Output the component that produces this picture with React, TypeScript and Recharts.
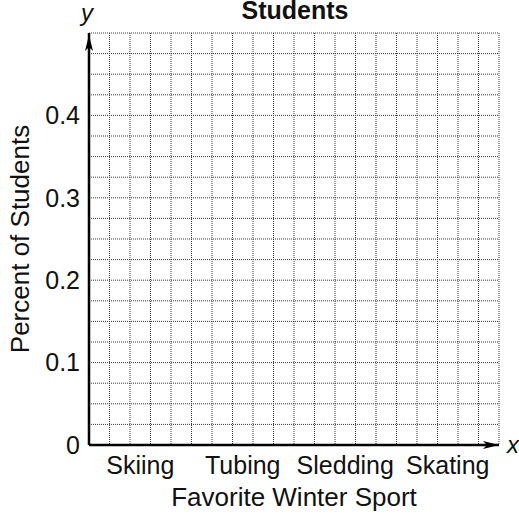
import { Bar, CartesianGrid, ComposedChart, XAxis, YAxis } from "recharts";

// blank graph: favourite winter sport, no values filled in yet
const sports = ["Skiing", "Tubing", "Sledding", "Skating"];
const percents: (number | null)[] = [null, null, null, null];

const yTicks = [
  0, 0.025, 0.05, 0.075, 0.1, 0.125, 0.15, 0.175, 0.2, 0.225, 0.25, 0.275, 0.3,
  0.325, 0.35, 0.375, 0.4, 0.425, 0.45, 0.475, 0.5,
];
const yLabels = [0, 0.1, 0.2, 0.3, 0.4];
const gridCols = [0, 1, 2, 3, 4, 5, 6, 7, 8, 9, 10, 11, 12, 13, 14, 15, 16, 17, 18, 19, 20];

const data = sports.map((sport, i) => ({ sport, percent: percents[i] }));

const FONT = '"Liberation Sans", Arial, Helvetica, sans-serif';

export default function App() {
  return (
    <div style={{ position: "absolute", left: 0, top: 0, width: 519, height: 516, background: "#fff" }}>
      <svg width={0} height={0} style={{ position: "absolute" }}>
        <defs>
          <marker id="arrowEnd" markerUnits="userSpaceOnUse" markerWidth={16} markerHeight={8}
            refX={16} refY={4} orient="auto" viewBox="0 0 16 8">
            <path d="M0,0 L16,4 L0,8 L4,4 z" fill="#000" />
          </marker>
          <marker id="arrowStart" markerUnits="userSpaceOnUse" markerWidth={18} markerHeight={8}
            refX={18} refY={4} orient="auto-start-reverse" viewBox="0 0 18 8">
            <path d="M0,0 L16,4 L0,8 L4,4 z" fill="#000" />
          </marker>
        </defs>
      </svg>
      <ComposedChart
        width={519}
        height={516}
        data={data}
        margin={{ top: 33, right: 20, bottom: 0, left: 0 }}
        style={{ fontFamily: FONT }}
      >
        <CartesianGrid
          stroke="#3a3a3a"
          strokeDasharray="1 1"
          strokeWidth={1}
          verticalCoordinatesGenerator={({ offset }: any) =>
            gridCols.map((c) => offset.left + (offset.width * c) / gridCols[gridCols.length - 1])
          }
        />
        <XAxis
          dataKey="sport"
          height={71}
          tickSize={0}
          tickMargin={11}
          tick={{ fontSize: 25, fill: "#111" }}
          axisLine={{ stroke: "#000", strokeWidth: 2.5, markerEnd: "url(#arrowEnd)" }}
          label={{ value: "Favorite Winter Sport", position: "insideBottom", offset: 10, fontSize: 26, fill: "#111" }}
        />
        <YAxis
          type="number"
          width={89}
          domain={[0, 0.5]}
          allowDataOverflow
          ticks={yTicks}
          interval={0}
          tickSize={0}
          tickMargin={9}
          tickFormatter={(v: number) => (yLabels.includes(v) ? String(v) : "")}
          tick={{ fontSize: 25, fill: "#111" }}
          axisLine={{ stroke: "#000", strokeWidth: 2.5, markerStart: "url(#arrowStart)" }}
          label={{
            content: (props: any) => {
              const vb = props.viewBox ?? { x: 0, y: 33, height: 412 };
              const x = vb.x + 29;
              const y = vb.y + vb.height / 2;
              return (
                <text x={x} y={y} transform={`rotate(-90, ${x}, ${y})`} textAnchor="middle"
                  fontSize={26} fill="#111" fontFamily={FONT}>
                  Percent of Students
                </text>
              );
            },
          }}
        />
        <Bar dataKey="percent" fill="#888" isAnimationActive={false} />
        <text x={295} y={19} textAnchor="middle" fontSize={25} fontWeight="bold" fill="#111" fontFamily={FONT}>
          Students
        </text>
        <text x={87} y={21} textAnchor="middle" fontSize={24} fontStyle="italic" fill="#111" fontFamily={FONT}>
          y
        </text>
        <text x={507} y={453} fontSize={24} fontStyle="italic" fill="#111" fontFamily={FONT}>
          x
        </text>
      </ComposedChart>
    </div>
  );
}
